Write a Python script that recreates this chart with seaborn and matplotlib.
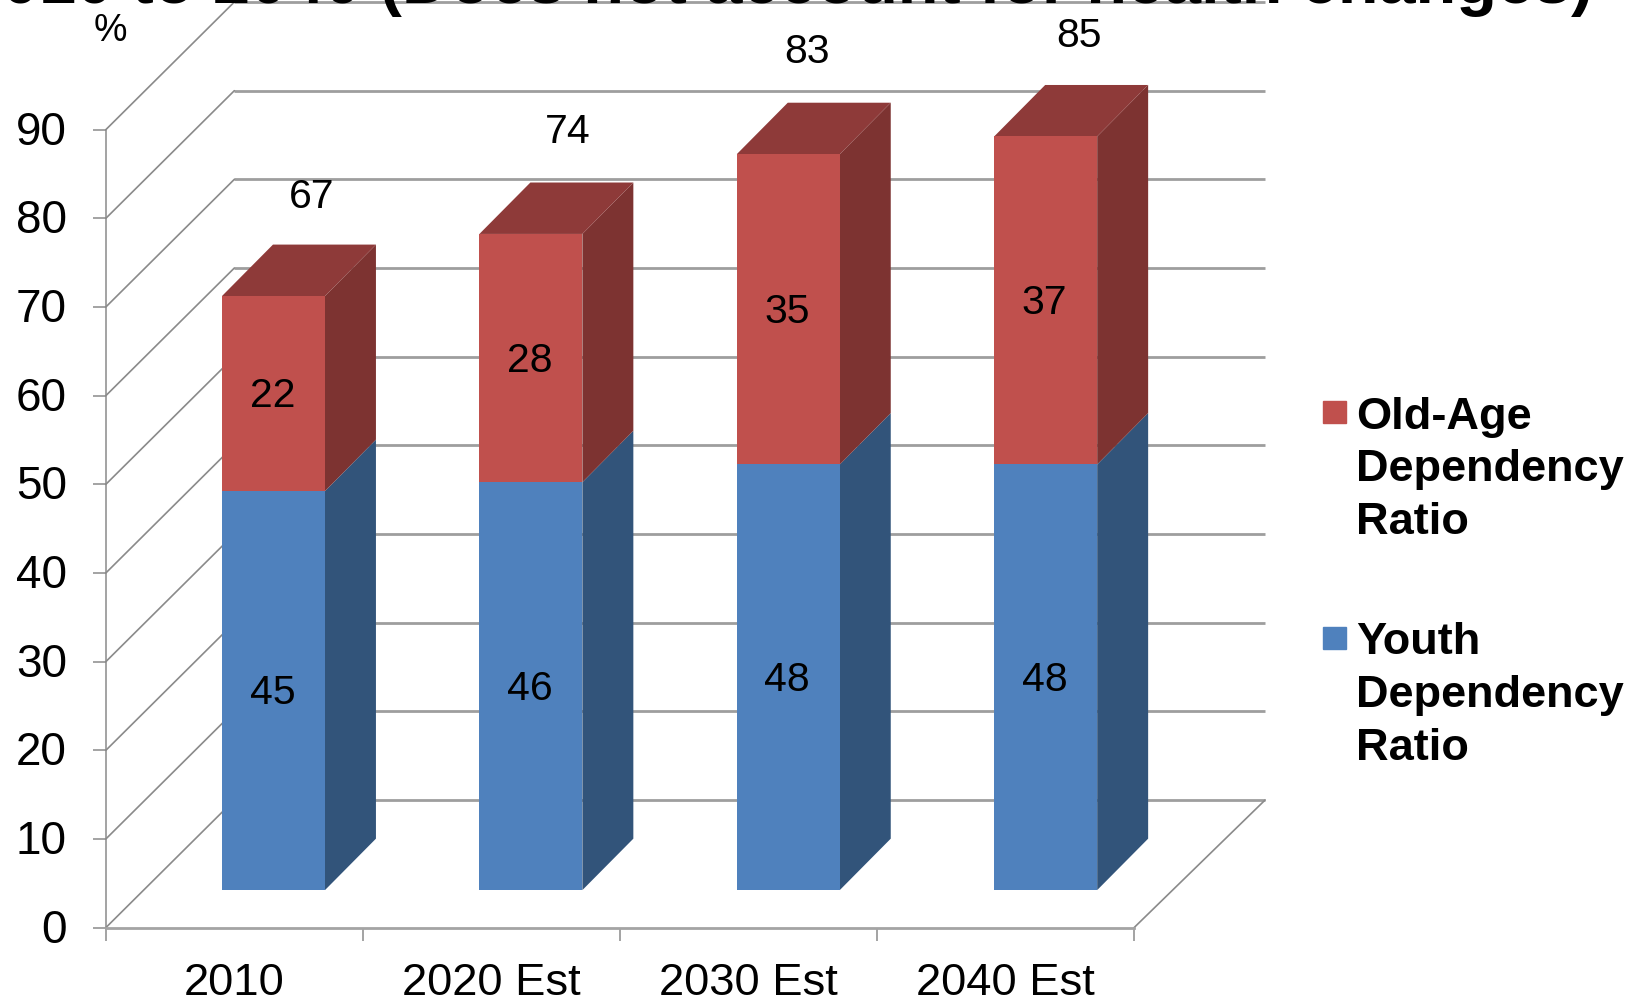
import matplotlib
matplotlib.use("Agg")
import matplotlib.pyplot as plt
from matplotlib.legend_handler import HandlerPatch
from matplotlib.patches import Patch, Rectangle
from matplotlib.transforms import ScaledTranslation
import seaborn as sns

# Dependency ratios, percent
periods = ["2010", "2020 Est", "2030 Est", "2040 Est"]
youth_ratio = [45, 46, 48, 48]
old_age_ratio = [22, 28, 35, 37]
total_ratio = [67, 74, 83, 85]
y_ticks = [0, 10, 20, 30, 40, 50, 60, 70, 80, 90]

TITLE = "2010 to 2040 (Does not account for health changes)"
YOUTH_LABEL = "Youth\nDependency\nRatio"
OLD_LABEL = "Old-Age\nDependency\nRatio"

BLUE, BLUE_SIDE = "#4F81BD", "#32547A"
RED, RED_SIDE, RED_TOP = "#C0504D", "#7D3331", "#8E3A39"
GRID = "#9E9E9E"
EDGE = "#8A8A8A"

W, H = 1642, 1000
sns.set_theme(style="white")
plt.rcParams["font.family"] = ["Liberation Sans", "DejaVu Sans"]

fig = plt.figure(figsize=(W / 100, H / 100), dpi=100, facecolor="white")


def box(left, right, top, bottom):
    """Axes rectangle from pixel edges, measured from the top-left corner."""
    return [left / W, 1 - bottom / H, (right - left) / W, (bottom - top) / H]


# Front plane of the chart box: this axes carries the real ticks and labels.
wall = fig.add_axes(box(105.8, 1134, 129.7, 927.7), zorder=1)
wall.set_xlim(-0.5, 3.5)
wall.set_ylim(0, 90)
wall.patch.set_visible(False)
for side in ("top", "right"):
    wall.spines[side].set_visible(False)
wall.spines["left"].set(color=EDGE, linewidth=1.1)
wall.spines["bottom"].set(color="#A4A4A4", linewidth=2.0)

wall.set_yticks(y_ticks)
wall.tick_params(axis="y", left=True, length=9.5, width=1.1, color=EDGE,
                 pad=18.5, labelsize=33, labelcolor="black")
raise_labels = ScaledTranslation(0, 2 / 100, fig.dpi_scale_trans)
for label in wall.get_yticklabels():
    label.set_transform(label.get_transform() + raise_labels)
wall.set_xticks(range(len(periods)), periods)
wall.tick_params(axis="x", which="major", bottom=False, pad=19.5, labelsize=32.7,
                 labelcolor="black")
wall.set_xticks([-0.5, 0.5, 1.5, 2.5, 3.5], minor=True)
wall.tick_params(axis="x", which="minor", bottom=True, length=9.5, width=1.1,
                 color=EDGE)
wall.grid(False)

# Oblique projection of the back wall relative to the front plane
depth_x, depth_right, depth_y = 0.5, 0.51, 14.4
for v in y_ticks:
    wall.plot([-0.5 + depth_x, 3.5 + depth_right], [v + depth_y] * 2, color=GRID,
              linewidth=2.0, clip_on=False, solid_capstyle="butt", zorder=1)
    wall.plot([-0.5, -0.5 + depth_x], [v, v + depth_y], color=EDGE,
              linewidth=1.2, clip_on=False, zorder=1)
wall.plot([3.5, 3.5 + depth_right], [0, depth_y], color=EDGE, linewidth=1.2,
          clip_on=False, zorder=1)

# Bars stand on the floor, so they get their own axes set back from the front plane.
bars = fig.add_axes(box(144.8, 1174.4, 3.4, 890.1), zorder=2)
bars.patch.set_visible(False)
bar_width = 0.4
sns.barplot(x=periods, y=youth_ratio, color=BLUE, saturation=1, width=bar_width,
            ax=bars, linewidth=0, zorder=3)
sns.barplot(x=periods, y=old_age_ratio, bottom=youth_ratio, color=RED, saturation=1,
            width=bar_width, ax=bars, linewidth=0, zorder=3)
bars.set_xlim(-0.5, 3.5)
bars.set_ylim(0, 100)
bars.set_axis_off()

# Side and top faces of each stacked column
bar_dx, bar_dy = 0.198, 5.8
for i, (y_val, o_val) in enumerate(zip(youth_ratio, old_age_ratio)):
    r = i + bar_width / 2
    l = i - bar_width / 2
    top = y_val + o_val
    bars.fill([r, r + bar_dx, r + bar_dx, r], [0, bar_dy, y_val + bar_dy, y_val],
              color=BLUE_SIDE, linewidth=0, zorder=2, clip_on=False)
    bars.fill([r, r + bar_dx, r + bar_dx, r],
              [y_val, y_val + bar_dy, top + bar_dy, top],
              color=RED_SIDE, linewidth=0, zorder=2, clip_on=False)
    bars.fill([l, l + bar_dx, r + bar_dx, r], [top, top + bar_dy, top + bar_dy, top],
              color=RED_TOP, linewidth=0, zorder=2, clip_on=False)

# Segment values centred in each block
for container in bars.containers:
    for text in bars.bar_label(container, label_type="center", fontsize=29.5,
                               color="black", fmt="%d"):
        text.xyann = (-0.8, -1.8)

# Column totals float above the columns
total_dx = [38.5, 37, 19, 33]
total_dy = [99, 102, 102, 100]
for i, total in enumerate(total_ratio):
    bars.annotate(str(total), (i, total), xytext=(total_dx[i], total_dy[i]),
                  textcoords="offset pixels", ha="center", va="center",
                  fontsize=29.5, color="black", annotation_clip=False)


def raised_square(legend, orig_handle, xdescent, ydescent, width, height, fontsize):
    # Lines the swatch up with the first row of its three-line label
    return Rectangle((0, 45), 16.2, 16.2)


legend = fig.legend(
    handles=[Patch(color=RED, label=OLD_LABEL), Patch(color=BLUE, label=YOUTH_LABEL)],
    loc="upper left", bbox_to_anchor=(1323 / W, 1 - 396.5 / H), frameon=False,
    borderpad=0, borderaxespad=0, prop={"weight": "bold", "size": 32.5},
    handlelength=0.72, handleheight=0.72, handletextpad=0.02, labelspacing=1.75,
    labelcolor="black",
    handler_map={Patch: HandlerPatch(patch_func=raised_square)},
)
for text in legend.get_texts():
    text.set_linespacing(1.37)

fig.text(110 / W, 1 - 31 / H, "%", fontsize=27, ha="center", va="center",
         color="black", zorder=5)

# Heading runs off the top edge of the canvas
fig.text(1593 / W, 1 - 3 / H, TITLE, fontsize=48, fontweight="bold", ha="right",
         va="baseline", color="black", zorder=5)

fig.savefig("out.png", dpi=100, facecolor="white")
